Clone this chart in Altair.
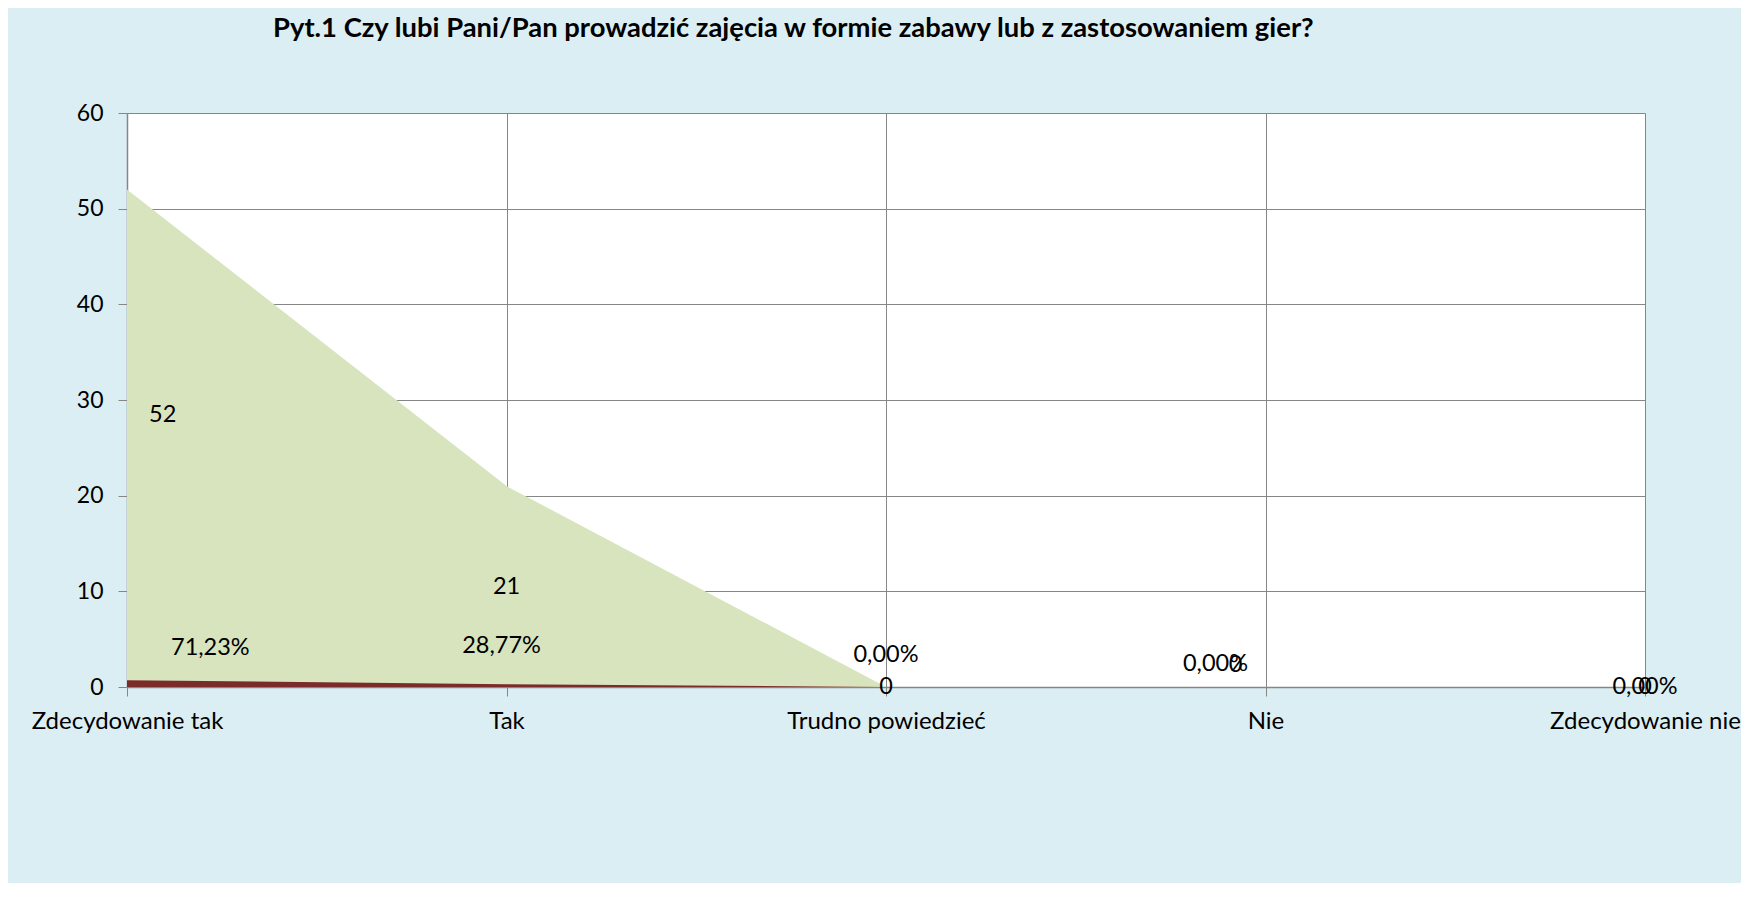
import altair as alt
import pandas as pd

categories = ["Zdecydowanie tak", "Tak", "Trudno powiedzieć", "Nie", "Zdecydowanie nie"]
counts = [52, 21, 0, 0, 0]
shares = [0.7123, 0.2877, 0.0, 0.0, 0.0]
y_ticks = [0, 10, 20, 30, 40, 50, 60]
title_text = "Pyt.1 Czy lubi Pani/Pan prowadzić zajęcia w formie zabawy lub z zastosowaniem gier?"

df = pd.DataFrame({"kat": categories, "liczba": counts, "udzial": shares, "idx": list(range(len(categories)))})

FONT = "Lato"
GRID = "#868686"
LBL = 23.5

x_enc = alt.X(
    "kat:N",
    sort=categories,
    scale=alt.Scale(type="point", padding=0),
    axis=alt.Axis(
        title=None, labelAngle=0, grid=True, gridColor=GRID, gridWidth=1,
        domainColor=GRID, domainWidth=1.5, tickColor=GRID, tickSize=9,
        labelFontSize=24, labelFont=FONT, labelColor="#000000", labelPadding=13,
        labelOverlap=False, labelBound=False, labelFlush=False, labelLimit=1000,
    ),
)
y_scale = alt.Scale(domain=[0, 60], nice=False)
y_axis = alt.Axis(
    title=None, values=y_ticks, grid=True, gridColor=GRID, gridWidth=1,
    domainColor=GRID, domainWidth=1.5, tickColor=GRID, tickSize=9,
    labelFontSize=23, labelFont=FONT, labelColor="#000000", labelPadding=15,
)

base = alt.Chart(df)

green = base.mark_area(color="#D7E4BD", opacity=1, interpolate="linear").encode(
    x=x_enc, y=alt.Y("liczba:Q", scale=y_scale, axis=y_axis, stack=None)
)
red = base.mark_area(color="#7B2C2A", opacity=1, interpolate="linear").encode(
    x=x_enc, y=alt.Y("udzial:Q", scale=y_scale, stack=None)
)

cnt = base.transform_calculate(half="datum.liczba / 2", lab="'' + datum.liczba")
cnt_first = cnt.transform_filter("datum.idx == 0").mark_text(
    font=FONT, fontSize=LBL, color="#000000", align="left", dx=22, dy=-23
).encode(x=x_enc, y=alt.Y("half:Q", scale=y_scale), text="lab:N")
cnt_mid = cnt.transform_filter("datum.idx == 1 || datum.idx == 2 || datum.idx == 4").mark_text(
    font=FONT, fontSize=LBL, color="#000000", align="center"
).encode(x=x_enc, y=alt.Y("half:Q", scale=y_scale), text="lab:N")
cnt_nie = cnt.transform_filter("datum.idx == 3").mark_text(
    font=FONT, fontSize=LBL, color="#000000", align="center", dx=-30, dy=-22
).encode(x=x_enc, y=alt.Y("half:Q", scale=y_scale), text="lab:N")

pct = base.transform_calculate(lab="replace(format(datum.udzial, '.2%'), '.', ',')")
pct_first = pct.transform_filter("datum.idx == 0").mark_text(
    font=FONT, fontSize=LBL, color="#000000", align="left", dx=44, dy=-32
).encode(x=x_enc, y=alt.Y("udzial:Q", scale=y_scale), text="lab:N")
pct_mid = pct.transform_filter("datum.idx == 1").mark_text(
    font=FONT, fontSize=LBL, color="#000000", align="center", dx=-5, dy=-38
).encode(x=x_enc, y=alt.Y("udzial:Q", scale=y_scale), text="lab:N")
pct_tp = pct.transform_filter("datum.idx == 2").mark_text(
    font=FONT, fontSize=LBL, color="#000000", align="center", dy=-32
).encode(x=x_enc, y=alt.Y("udzial:Q", scale=y_scale), text="lab:N")
pct_nie = pct.transform_filter("datum.idx == 3").mark_text(
    font=FONT, fontSize=LBL, color="#000000", align="center", dx=-50, dy=-23
).encode(x=x_enc, y=alt.Y("udzial:Q", scale=y_scale), text="lab:N")
pct_last = pct.transform_filter("datum.idx == 4").mark_text(
    font=FONT, fontSize=LBL, color="#000000", align="center", dy=0
).encode(x=x_enc, y=alt.Y("udzial:Q", scale=y_scale), text="lab:N")

chart = alt.layer(
    green, red, cnt_first, cnt_mid, cnt_nie, pct_first, pct_mid, pct_tp, pct_nie, pct_last
).properties(
    width=1518,
    height=574,
    title=alt.TitleParams(
        text=title_text, font=FONT, fontSize=27.4, fontWeight="bold", color="#000000",
        anchor="start", frame="group", dx=146, offset=38, baseline="alphabetic",
    ),
    autosize=alt.AutoSizeParams(type="none"),
    padding={"left": 119, "top": 105, "right": 96, "bottom": 196},
    background="#DBEEF3",
).configure_view(fill="#FFFFFF", stroke="transparent")

chart.save("out.html", embed_options={"renderer": "svg", "actions": False})
